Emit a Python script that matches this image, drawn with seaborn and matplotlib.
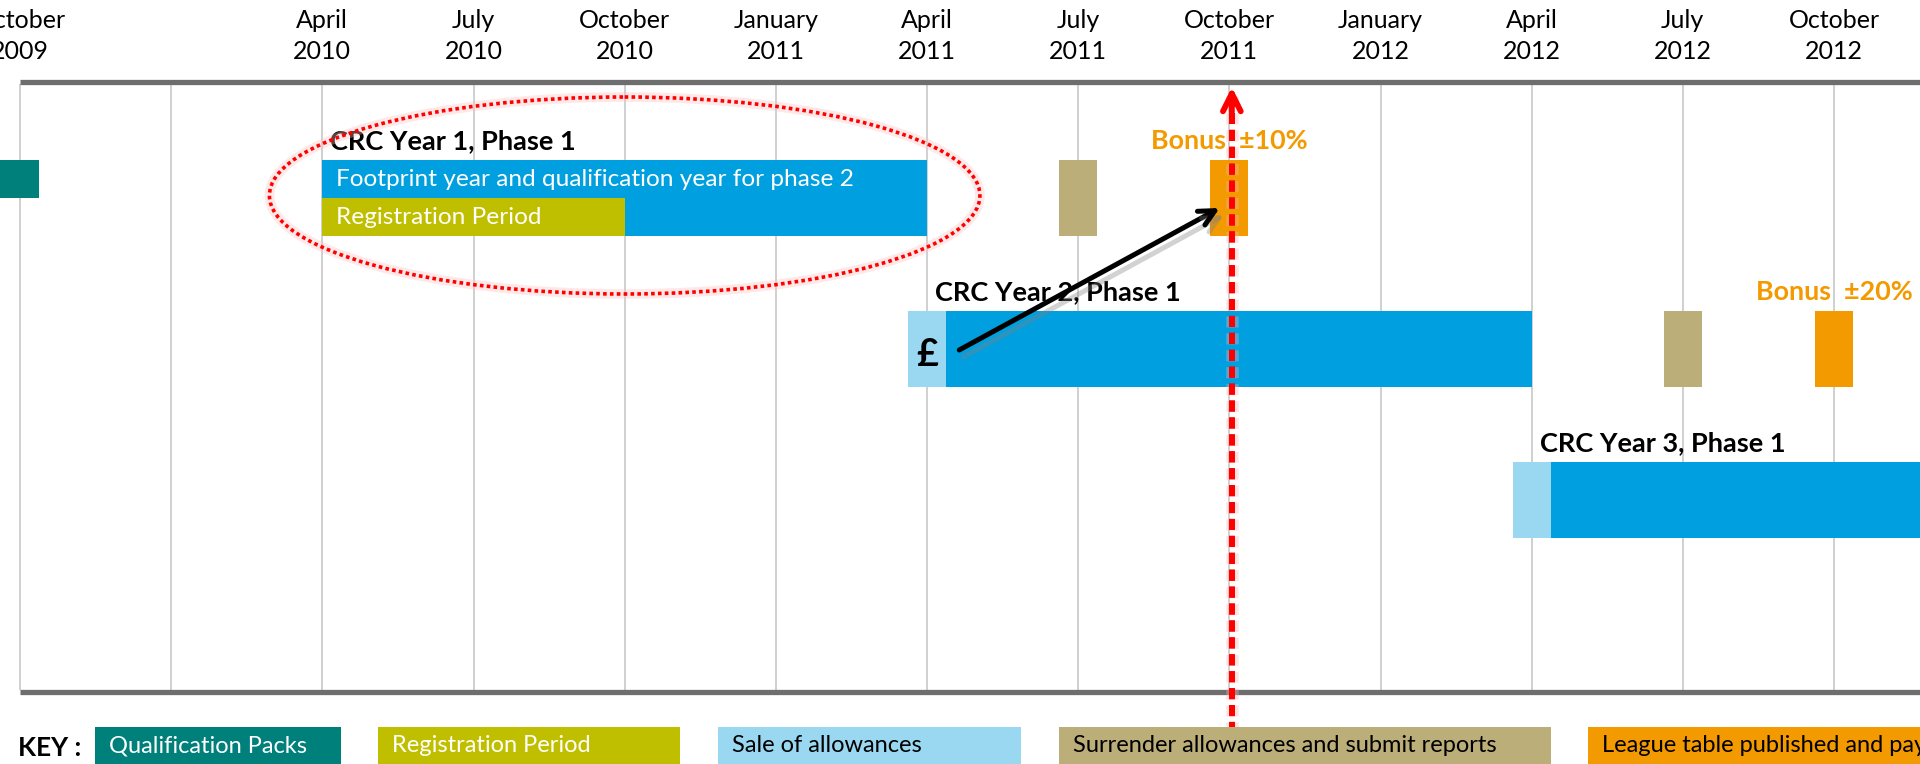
import numpy as np
import pandas as pd
import seaborn as sns
import matplotlib.pyplot as plt
import matplotlib.patheffects as pe
from matplotlib.patches import Ellipse, Rectangle

sns.set_theme(style="white")
plt.rcParams["font.family"] = ["Lato", "DejaVu Sans"]

# ====================================================================================================================
# Data (months counted from 1 October 2009)
# ====================================================================================================================

tick_months = [0, 6, 9, 12, 15, 18, 21, 24, 27, 30, 33, 36]
tick_labels = ["October\n2009", "April\n2010", "July\n2010", "October\n2010", "January\n2011", "April\n2011",
               "July\n2011", "October\n2011", "January\n2012", "April\n2012", "July\n2012", "October\n2012"]
grid_months = list(range(0, 37, 3))

bar_kind = ["qual", "footprint", "reg", "surrender", "league",
            "sale", "footprint", "surrender", "league",
            "sale", "footprint"]
bar_start = [-1.0, 6, 6, 20.625, 23.625, 17.625, 18.375, 32.625, 35.625, 29.625, 30.375]
bar_end = [0.375, 18, 12, 21.375, 24.375, 18.375, 30, 33.375, 36.375, 30.375, 42]
bar_row = [1, 1, 1, 1, 1, 2, 2, 2, 2, 3, 3]
bar_band = ["top", "full", "bottom", "full", "full", "full", "full", "full", "full", "full", "full"]

phase_titles = ["CRC Year 1, Phase 1", "CRC Year 2, Phase 1", "CRC Year 3, Phase 1"]
phase_start = [6, 18, 30]

bonus_labels = ["Bonus  \u00b110%", "Bonus  \u00b120%"]
bonus_month = [24, 36]
bonus_row = [1, 2]

inner_labels = ["Footprint year and qualification year for phase 2", "Registration Period"]
inner_band = ["top", "bottom"]

now_month = 24.05  # October 2011 marker

key_labels = ["Qualification Packs", "Registration Period", "Sale of allowances",
              "Surrender allowances and submit reports", "League table published and payments made"]
key_kind = ["qual", "reg", "sale", "surrender", "league"]

palette = {"qual": "#00807B", "reg": "#BFBF00", "sale": "#9AD8F1", "footprint": "#009FDF",
           "surrender": "#BBAE79", "league": "#F29A00"}
key_text_color = {"qual": "white", "reg": "white", "sale": "black", "surrender": "black", "league": "black"}

bars = pd.DataFrame({"kind": bar_kind, "start": bar_start, "end": bar_end, "row": bar_row, "band": bar_band})

# ====================================================================================================================
# Layout
# ====================================================================================================================

W, H = 1920, 764
PX0 = 20                      # pixel of October 2009
PPM = (1834 - PX0) / 36.0     # pixels per month
ROW_TOP = {1: 160, 2: 311, 3: 462}
BAND = {"full": (0, 76), "top": (0, 38), "bottom": (38, 76)}

fig = plt.figure(figsize=(W / 100, H / 100), dpi=100)
ax = fig.add_axes([0, 0, 1, 1])
ax.set_xlim(-PX0 / PPM, (W - PX0) / PPM)
ax.set_ylim(H, 0)
ax.axis("off")

# grid and frame
ax.vlines(grid_months, 84, 690, color="#C4C4C4", lw=1.1, zorder=1)
ax.hlines([82, 692], 0, (W - PX0) / PPM, color="#6E6E6E", lw=3.8, zorder=2)

# month labels
for m, lab in zip(tick_months, tick_labels):
    ax.text(m, 36, lab, ha="center", va="center", fontsize=18, linespacing=1.4, color="black")

# bars
for _, b in bars.iterrows():
    top = ROW_TOP[b["row"]] + BAND[b["band"]][0]
    bot = ROW_TOP[b["row"]] + BAND[b["band"]][1]
    ax.barh((top + bot) / 2, b["end"] - b["start"], height=bot - top, left=b["start"],
            color=palette[b["kind"]], edgecolor="none", zorder=3)

# phase titles
for t, s, r in zip(phase_titles, phase_start, [1, 2, 3]):
    ax.text(s + 8 / PPM, ROW_TOP[r] - 19, t, ha="left", va="center", fontsize=19.5,
            fontweight="bold", color="black", zorder=5)

for t, band in zip(inner_labels, inner_band):
    top = ROW_TOP[1] + BAND[band][0]
    ax.text(phase_start[0] + 14 / PPM, top + 19, t, ha="left", va="center", fontsize=17.6,
            color="white", zorder=5)

for t, m, r in zip(bonus_labels, bonus_month, bonus_row):
    ax.text(m, ROW_TOP[r] - 19, t, ha="center", va="center", fontsize=19.4, fontweight="bold",
            color=palette["league"], zorder=5)

# pound sign on the sale of allowances
ax.text(phase_start[1], ROW_TOP[2] + 44, "\u00a3", ha="center", va="center", fontsize=27,
        fontweight="bold", color="black", zorder=6)

# ellipse around phase 1
ell_glow = Ellipse((12, 195.5), 14.1, 197, fill=False, edgecolor=(1, 0.75, 0.75), lw=7,
                   alpha=0.35, zorder=5)
ax.add_patch(ell_glow)
ell = Ellipse((12, 195.5), 14.1, 197, fill=False, edgecolor="#FF0000", lw=2.6,
              linestyle=(0, (1, 0.9)), zorder=6)
ax.add_patch(ell)

# black arrow from the sale to the league table
arr = ax.annotate("", xy=(bonus_month[0] - 0.19, 208), xytext=(phase_start[1] + 0.64, 350),
                  arrowprops=dict(arrowstyle="->", color="black", lw=3.6, mutation_scale=28,
                                  shrinkA=0, shrinkB=0), zorder=7)
arr.arrow_patch.set_path_effects([pe.SimpleLineShadow(offset=(3, -5), shadow_color="grey", alpha=0.35),
                                  pe.Normal()])

# red "now" marker
ax.vlines(now_month, 96, 732, color="#FF0000", lw=4.2, linestyle=(0, (1.9, 1.0)), zorder=8,
          path_effects=[pe.withStroke(linewidth=9, foreground=(1, 0.7, 0.7, 0.35)), pe.Normal()])
ax.annotate("", xy=(now_month, 87), xytext=(now_month, 112),
            arrowprops=dict(arrowstyle="->", color="#FF0000", lw=4.2, mutation_scale=32,
                            shrinkA=0, shrinkB=0), zorder=8)

# key
lax = fig.add_axes([0, 0, 1, 1])
lax.set_xlim(0, W)
lax.set_ylim(H, 0)
lax.axis("off")
lax.patch.set_alpha(0)
key_left = [95, 378, 718, 1059, 1588]
key_right = [341, 680, 1021, 1551, 1940]
lax.text(18, 748, "KEY :", ha="left", va="center", fontsize=19, fontweight="bold", color="black")
for lab, k, l, r in zip(key_labels, key_kind, key_left, key_right):
    lax.add_patch(Rectangle((l, 727), r - l, 45, color=palette[k], lw=0))
    lax.text(l + 14, 746, lab, ha="left", va="center", fontsize=17, color=key_text_color[k])

fig.savefig("out.png", dpi=100)
